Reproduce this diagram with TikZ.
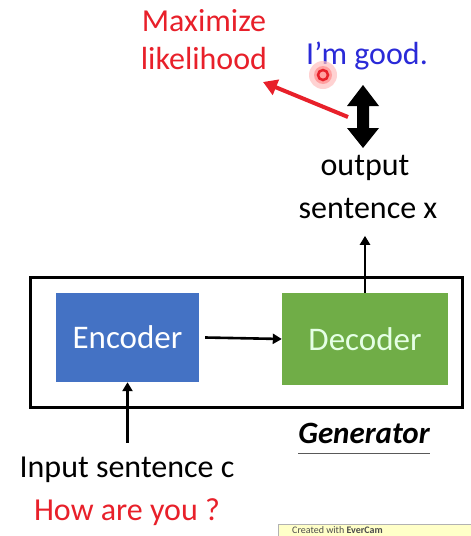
\documentclass[tikz,border=0pt]{standalone}
\usepackage{fontspec}
\setmainfont{Carlito}
\usetikzlibrary{arrows.meta}
\definecolor{encblue}{HTML}{4472C4}
\definecolor{decgreen}{HTML}{70AD47}
\definecolor{redtxt}{HTML}{E8202A}
\definecolor{bluetxt}{HTML}{2A2AD8}
\definecolor{wmyellow}{HTML}{FFFFC8}
\begin{document}
\begin{tikzpicture}[x=1pt,y=-1pt,
  big/.style={font=\fontsize{32}{38}\selectfont, inner sep=0pt},
  blockbox/.style={draw=none, minimum width=143pt, minimum height=89pt, inner sep=0pt, font=\fontsize{33}{38}\selectfont},
  conn/.style={line width=2.6pt, -{Triangle[length=9pt,width=10pt]}}]
\useasboundingbox (0,0) rectangle (471,536);
\fill[white] (0,0) rectangle (471,536);
% generator box
\node[draw, line width=3pt, minimum width=432pt, minimum height=130pt, inner sep=0pt] (gen) at (246,342) {};
\node[blockbox, fill=encblue, text=white] (enc) at (127.5,337.5) {Encoder};
\node[blockbox, fill=decgreen, text=white!90!green, minimum width=166pt, minimum height=92pt] (dec) at (365,339) {Decoder};
\draw[conn] (enc.east) ++(6,0) coordinate (ee) -- (dec.west);
\node[inner sep=0pt, font=\fontsize{31}{36}\selectfont\bfseries\itshape] (genlbl) at (364,433) {Generator};
\coordinate (ula) at ([yshift=-10pt]genlbl.south west);
\coordinate (ulb) at ([yshift=-10pt]genlbl.south east);
\draw[line width=1pt, gray!70!black] (ula) -- (ulb);
% input
\node[big] (inp) at (127,470) {Input sentence c};
\node[big, text=redtxt] (how) at (127,512) {How are you ?};
\draw[conn] (inp.north -| enc.south) ++(0,-14) coordinate (ib) -- (enc.south);
% output
\node[big] (out1) at (365,168) {output};
\node[big] (out2) at (368,208) {sentence x};
\draw[conn] (dec.north) -- ++(0,-57) coordinate (ot);
% top texts
\node[big, text=redtxt, align=center] (maxl) at (204,40) {Maximize\\likelihood};
\node[big, text=bluetxt] (good) at (367,56) {I’m good.};
% black double arrow
\fill[black] (363,85) -- (379,106) -- (369,106) -- (369,128) -- (379,128) -- (363,148) -- (347,128) -- (357,128) -- (357,106) -- (347,106) -- cycle;
\coordinate (ra) at (348,117);
\draw[redtxt, line width=4pt, -{Triangle[length=14pt,width=16pt]}] (ra) -- (263,82);
% cursor highlight
\fill[red!25, opacity=0.7] (323,75) circle (14);
\fill[red!45, opacity=0.7] (323,75) circle (9);
\draw[redtxt, line width=2.5pt] (323,75) circle (5);
% watermark
\fill[wmyellow, draw=gray!60] (278,524) rectangle (480,545);
\node[anchor=base west, inner sep=0pt, text=gray!60!black, font=\fontsize{10}{12}\selectfont] (wm) at (292,533) {Created with \textbf{EverCam}};
\end{tikzpicture}
\end{document}
